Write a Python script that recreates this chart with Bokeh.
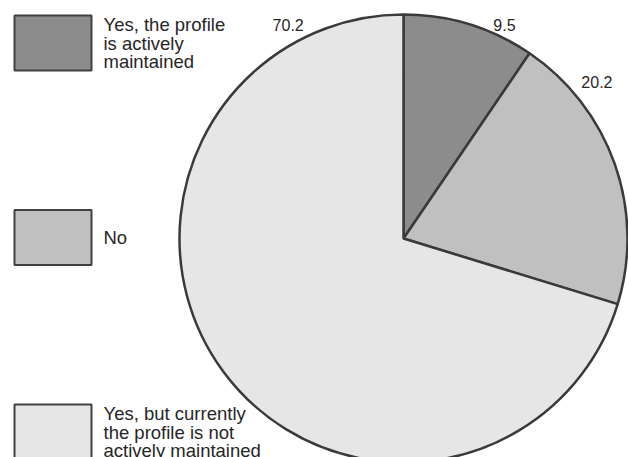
import math
from bokeh.plotting import figure
from bokeh.models import Range1d, ColumnDataSource
from bokeh.core.properties import value
from bokeh.embed import file_html
from bokeh.resources import INLINE

categories = ["Yes, the profile\nis actively\nmaintained", "No",
              "Yes, but currently\nthe profile is not\nactively maintained"]
values = [9.5, 20.2, 70.2]
value_labels = ["9.5", "20.2", "70.2"]
colors = ["#8c8c8c", "#c0c0c0", "#e6e6e6"]

W, H = 628, 457
cx, cy, R = 403, H - 238, 224
label_frac = [0.74, 0.23, 0.888]
label_r = [236, 249, 243]

p = figure(width=W, height=H, output_backend="svg", toolbar_location=None,
           x_range=Range1d(0, W), y_range=Range1d(0, H),
           x_axis_location=None, y_axis_location=None, min_border=0)
p.grid.visible = False
p.outline_line_color = None
p.background_fill_color = "white"

total = sum(values)
starts, ends, lx, ly = [], [], [], []
cum = 0.0
for i, v in enumerate(values):
    a0 = cum / total
    a1 = (cum + v) / total
    starts.append(math.pi / 2 - a0 * 2 * math.pi)
    ends.append(math.pi / 2 - a1 * 2 * math.pi)
    am = a0 + label_frac[i] * (a1 - a0)
    th = math.pi / 2 - am * 2 * math.pi
    lx.append(cx + label_r[i] * math.cos(th))
    ly.append(cy + label_r[i] * math.sin(th))
    cum += v

src = ColumnDataSource(dict(start=starts, end=ends, color=colors,
                            lx=lx, ly=ly, lab=value_labels))
p.wedge(x=cx, y=cy, radius=R, start_angle="start", end_angle="end",
        direction="clock", fill_color="color", line_color="#3a3a3a",
        line_width=2.5, source=src)
p.text(x="lx", y="ly", text="lab", source=src, text_align="center",
       text_baseline="middle", text_font=value("Liberation Sans"),
       text_font_size="16px", text_color="#262626")

# legend
leg_top = [15 + i * 194.5 for i in range(len(categories))]
bw, bh = 77, 55
lsrc = ColumnDataSource(dict(
    x=[14 + bw / 2] * 3,
    y=[H - t - bh / 2 for t in leg_top],
    color=colors,
))
p.rect(x="x", y="y", width=bw, height=bh, fill_color="color",
       line_color="#404040", line_width=2, source=lsrc)

line_gap = 18.6
tx, ty, txt = [], [], []
for t, cat in zip(leg_top, categories):
    lines = cat.split("\n")
    n = len(lines)
    first = t + bh / 2 - (n - 1) / 2 * line_gap
    for k, ln in enumerate(lines):
        tx.append(103)
        ty.append(H - (first + k * line_gap))
        txt.append(ln)
lsrc2 = ColumnDataSource(dict(tx=tx, ty=ty, txt=txt))
p.text(x="tx", y="ty", text="txt", source=lsrc2, text_align="left",
       text_baseline="alphabetic", text_font=value("Liberation Sans"),
       text_font_size="18.5px", text_color="#262626")

open("out.html", "w").write(file_html(p, INLINE))
